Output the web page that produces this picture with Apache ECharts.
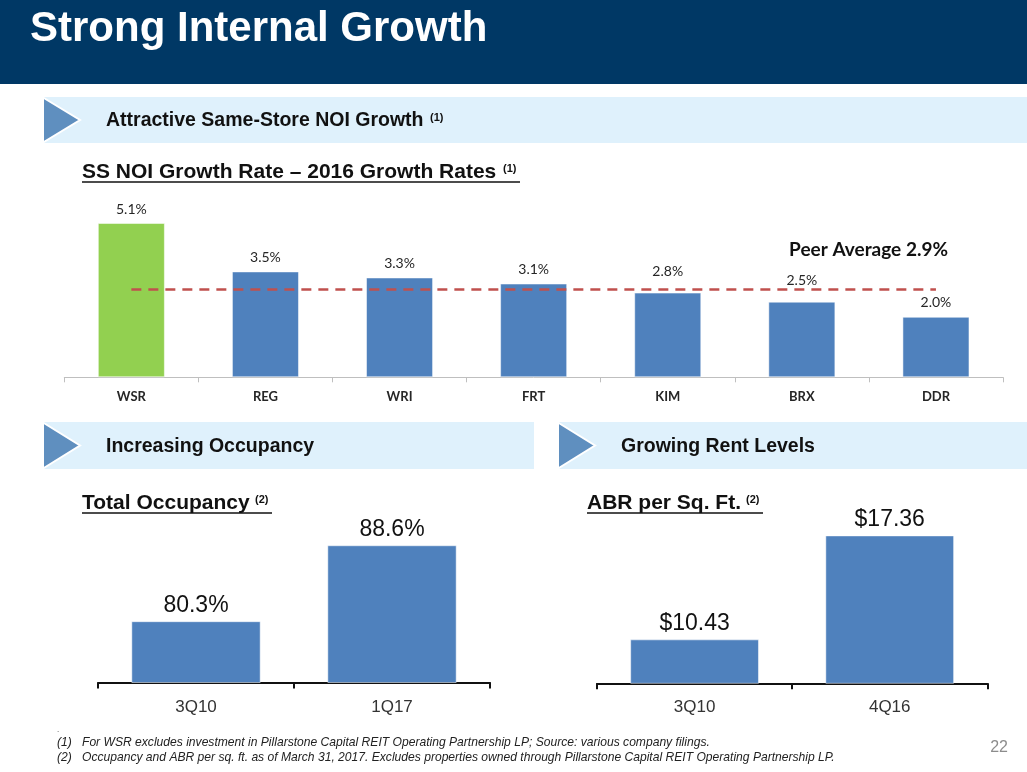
<!DOCTYPE html>
<html>
<head>
<meta charset="utf-8">
<script src="https://cdn.jsdelivr.net/npm/echarts@6/dist/echarts.min.js"></script>
<style>
html,body{margin:0;padding:0;background:#fff;}
#chart{width:1027px;height:772px;}
</style>
</head>
<body>
<div id="chart"></div>
<script>
// ---- data ----
var noiCategories = ['WSR', 'REG', 'WRI', 'FRT', 'KIM', 'BRX', 'DDR'];
var noiValues = [5.1, 3.5, 3.3, 3.1, 2.8, 2.5, 2.0];
var peerAverage = 2.9;

var occCategories = ['3Q10', '1Q17'];
var occValues = [80.3, 88.6];

var abrCategories = ['3Q10', '4Q16'];
var abrValues = [10.43, 17.36];

// ---- styles ----
var BLUE = '#4f81bd';
var GREEN = '#92d050';
var NAVY = '#003865';
var BANNER = '#dff1fc';
var TRI = '#5f8fbf';
var ARIAL = '"Liberation Sans", Arial, sans-serif';
var CAL = 'Lato, "Open Sans", sans-serif';

var chart = echarts.init(document.getElementById('chart'), null, {renderer: 'canvas'});

function banner(x1, x2, y1, y2, label) {
  var cy = (y1 + y2) / 2;
  return [
    {type: 'rect', shape: {x: x1, y: y1, width: x2 - x1, height: y2 - y1}, style: {fill: BANNER}, silent: true},
    {type: 'polygon', shape: {points: [[x1, y1 + 0.5], [x1 + 37, cy], [x1, y2 - 0.5]]}, style: {fill: TRI, stroke: '#ffffff', lineWidth: 2}, silent: true},
    {type: 'text', x: x1 + 63, y: cy + 1, style: {text: label, font: 'bold 19.5px ' + ARIAL, fill: '#111', textVerticalAlign: 'middle'}, silent: true}
  ];
}

function sup(x, y, n) {
  return {type: 'text', x: x, y: y, style: {text: '(' + n + ')', font: 'bold 11px ' + ARIAL, fill: '#111', textVerticalAlign: 'middle'}, silent: true};
}

var graphics = [
  {type: 'rect', shape: {x: 0, y: 0, width: 1027, height: 84}, style: {fill: NAVY}, silent: true},
  {type: 'text', x: 30, y: 29, style: {text: 'Strong Internal Growth', font: 'bold 42px ' + ARIAL, fill: '#ffffff', textVerticalAlign: 'middle'}, silent: true}
];
graphics = graphics.concat(banner(43, 1027, 97, 143, 'Attractive Same-Store NOI Growth'));
graphics.push(sup(430, 118, 1));
graphics = graphics.concat(banner(43, 534, 422, 469, 'Increasing Occupancy'));
graphics = graphics.concat(banner(558, 1027, 422, 469, 'Growing Rent Levels'));

// chart titles with underline
function ctitle(x, y, text, w, sx, n) {
  return [
    {type: 'text', x: x, y: y, style: {text: text, font: 'bold 21px ' + ARIAL, fill: '#111', textVerticalAlign: 'middle'}, silent: true},
    sup(sx, y - 3, n),
    {type: 'line', shape: {x1: x, y1: y + 10, x2: x + w, y2: y + 10}, style: {stroke: '#111', lineWidth: 1.5}, silent: true}
  ];
}
graphics = graphics.concat(ctitle(82, 172, 'SS NOI Growth Rate \u2013 2016 Growth Rates', 438, 503, 1));
graphics = graphics.concat(ctitle(82, 503, 'Total Occupancy', 190, 255, 2));
graphics = graphics.concat(ctitle(587, 503, 'ABR per Sq. Ft.', 176, 746, 2));

// peer average annotation
graphics.push({type: 'text', x: 948, y: 250, style: {text: 'Peer Average ' + peerAverage.toFixed(1) + '%', font: 'bold 19px ' + CAL, fill: '#111', textAlign: 'right', textVerticalAlign: 'middle'}, silent: true});

// footnotes
var FN = 'italic 12.1px "Liberation Sans Narrow", "Liberation Sans", Arial, sans-serif';
graphics.push({type: 'text', x: 57, y: 730, style: {text: '.', font: '8px ' + ARIAL, fill: '#333', textVerticalAlign: 'middle'}, silent: true});
graphics.push({type: 'text', x: 57, y: 743, style: {text: '(1)', font: FN, fill: '#222', textVerticalAlign: 'middle'}, silent: true});
graphics.push({type: 'text', x: 82, y: 743, style: {text: 'For WSR excludes investment in Pillarstone Capital REIT Operating Partnership LP; Source: various company filings.', font: FN, fill: '#222', textVerticalAlign: 'middle'}, silent: true});
graphics.push({type: 'text', x: 57, y: 758, style: {text: '(2)', font: FN, fill: '#222', textVerticalAlign: 'middle'}, silent: true});
graphics.push({type: 'text', x: 82, y: 758, style: {text: 'Occupancy and ABR per sq. ft. as of March 31, 2017. Excludes properties owned through Pillarstone Capital REIT Operating Partnership LP.', font: FN, fill: '#222', textVerticalAlign: 'middle'}, silent: true});
graphics.push({type: 'text', x: 1008, y: 748, style: {text: '22', font: '16px "Liberation Sans Narrow", "Liberation Sans", Arial, sans-serif', fill: '#8c8c8c', textAlign: 'right', textVerticalAlign: 'middle'}, silent: true});

var option = {
  animation: false,
  backgroundColor: '#ffffff',
  graphic: {elements: graphics},
  grid: [
    {left: 64.3, right: 24, top: 195.8, bottom: 394.7},
    {left: 98, right: 537, top: 499.5, bottom: 89.5},
    {left: 597, right: 39.7, top: 503.3, bottom: 88.7}
  ],
  xAxis: [
    {type: 'category', gridIndex: 0, data: noiCategories,
      axisLine: {lineStyle: {color: '#bfbfbf', width: 1}},
      axisTick: {show: true, length: 5, lineStyle: {color: '#bfbfbf'}},
      axisLabel: {color: '#262626', fontFamily: CAL, fontWeight: 'bold', fontSize: 13, margin: 13}},
    {type: 'category', gridIndex: 1, data: occCategories,
      axisLine: {lineStyle: {color: '#111', width: 2}},
      axisTick: {show: true, length: 6, lineStyle: {color: '#111', width: 2}},
      axisLabel: {color: '#333', fontFamily: ARIAL, fontSize: 17, margin: 16}},
    {type: 'category', gridIndex: 2, data: abrCategories,
      axisLine: {lineStyle: {color: '#111', width: 2}},
      axisTick: {show: true, length: 6, lineStyle: {color: '#111', width: 2}},
      axisLabel: {color: '#333', fontFamily: ARIAL, fontSize: 17, margin: 16}}
  ],
  yAxis: [
    {type: 'value', gridIndex: 0, min: 0, max: 6, show: false, splitLine: {show: false}},
    {type: 'value', gridIndex: 1, min: 73.6, max: 93.6, show: false, splitLine: {show: false}},
    {type: 'value', gridIndex: 2, min: 7.5, max: 19.5, show: false, splitLine: {show: false}}
  ],
  series: [
    {type: 'bar', xAxisIndex: 0, yAxisIndex: 0, barWidth: '50%',
      data: noiValues.map(function (v, i) {
        // labels just below the peer-average line are lifted above it (as in the source)
        var nearLine = v < peerAverage && v > peerAverage - 0.5;
        return {value: v, itemStyle: {color: i === 0 ? GREEN : BLUE}, label: {distance: nearLine ? 14 : 7}};
      }),
      itemStyle: {borderColor: 'rgba(255,255,255,0.5)', borderWidth: 1},
      label: {show: true, position: 'top', distance: 7, fontFamily: CAL, fontSize: 14, color: '#262626',
        formatter: function (p) { return p.value.toFixed(1) + '%'; }},
      markLine: {silent: true, symbol: 'none', label: {show: false},
        lineStyle: {color: '#c0504d', type: [10, 7], width: 2.5},
        data: [[{xAxis: noiCategories[0], yAxis: peerAverage}, {xAxis: noiCategories[noiCategories.length - 1], yAxis: peerAverage}]]}
    },
    {type: 'bar', xAxisIndex: 1, yAxisIndex: 1, barWidth: '66%', data: occValues,
      itemStyle: {color: BLUE, borderColor: 'rgba(255,255,255,0.5)', borderWidth: 1},
      label: {show: true, position: 'top', distance: 4, fontFamily: ARIAL, fontSize: 23, color: '#111',
        formatter: function (p) { return p.value.toFixed(1) + '%'; }}},
    {type: 'bar', xAxisIndex: 2, yAxisIndex: 2, barWidth: '66%', data: abrValues,
      itemStyle: {color: BLUE, borderColor: 'rgba(255,255,255,0.5)', borderWidth: 1},
      label: {show: true, position: 'top', distance: 4, fontFamily: ARIAL, fontSize: 23, color: '#111',
        formatter: function (p) { return '$' + p.value.toFixed(2); }}}
  ]
};
chart.setOption(option);
</script>
</body>
</html>
